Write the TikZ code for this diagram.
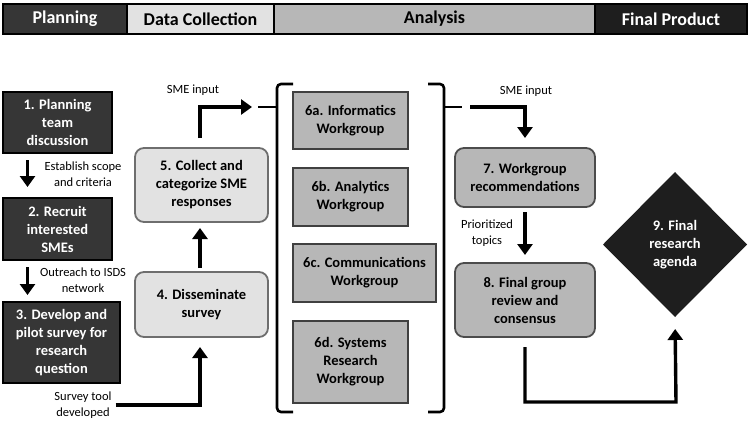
\documentclass[tikz,border=0pt]{standalone}
\usepackage{fontspec}
\setmainfont{Carlito}
\usepackage{tikz}
\usetikzlibrary{positioning,arrows.meta,shapes.geometric}

\definecolor{plangray}{HTML}{363636}
\definecolor{collgray}{HTML}{E2E2E2}
\definecolor{anagray}{HTML}{B7B7B7}
\definecolor{prodgray}{HTML}{1E1E1E}
\definecolor{rimgray}{HTML}{6E6E6E}

\tikzset{
  hdr/.style={draw=black, line width=1.5pt, outer sep=0pt, minimum height=30pt,
    font=\fontsize{18}{20}\selectfont\bfseries},
  planbox/.style={draw=black, fill=plangray, text=white, line width=1.2pt, align=center,
    font=\fontsize{14.5}{18}\selectfont\bfseries},
  collbox/.style={draw=rimgray, fill=collgray, line width=1.8pt, rounded corners=9pt,
    align=center, minimum width=133pt, font=\fontsize{14.5}{18}\selectfont\bfseries},
  wgbox/.style={draw=black!75, fill=anagray, line width=1.4pt, align=center,
    font=\fontsize{14.5}{18}\selectfont\bfseries},
  recbox/.style={draw=black!70, fill=anagray, line width=1.8pt, rounded corners=9pt,
    align=center, minimum width=140pt, font=\fontsize{14.5}{18}\selectfont\bfseries},
  note/.style={align=center, font=\fontsize{12.5}{16}\selectfont},
  flow/.style={line width=3.4pt, -{Triangle[width=15pt,length=11pt]}},
  bracket/.style={line width=2.6pt, rounded corners=4pt}
}

\begin{document}
\begin{tikzpicture}[x=1pt, y=-1pt, every node/.style={outer sep=0pt, inner sep=2pt}]
        \useasboundingbox (0,0) rectangle (750,423);

        % Phase header
        \node[hdr, fill=plangray, text=white, minimum width=124pt, anchor=west] (hplan) at (3,19) {Planning};
        \node[hdr, fill=collgray, minimum width=147pt, right=0pt of hplan] (hcoll) {Data Collection};
        \node[hdr, fill=anagray, minimum width=321pt, right=0pt of hcoll] (hana) {Analysis};
        \node[hdr, fill=prodgray, text=white, minimum width=152pt, right=0pt of hana] (hprod) {Final Product};
        \draw[line width=2.6pt] (hplan.north west) rectangle (hprod.south east);

        % Planning steps
        \node[planbox, minimum width=109pt, minimum height=61pt] (plan) at (57.5,122.5) {1. Planning\\team\\discussion};
        \node[planbox, minimum width=109pt, minimum height=62pt, below=45pt of plan] (recruit) {2. Recruit\\interested\\SMEs};
        \node[planbox, minimum width=117pt, minimum height=81pt, below=42pt of recruit.south west, anchor=north west] (develop)
        {3. Develop and\\pilot survey for\\research\\question};

        \node[note] (scope) at (83,174) {Establish scope\\and criteria};
        \node[note] (outreach) at (83,280) {Outreach to ISDS\\network};
        \node[note] (tool) at (83,405) {Survey tool\\developed};

        % Data collection steps
        \node[collbox, minimum height=65pt] (dissem) at (201.5,304.5) {4. Disseminate\\survey};
        \node[collbox, minimum height=74pt, above=50pt of dissem] (collect) {5. Collect and\\categorize SME\\responses};
        \node[note] (smeleft) at (193,90) {SME input};

        % Workgroups
        \node[wgbox, minimum width=115pt, minimum height=57pt] (informatics) at (350.5,120.5) {6a. Informatics\\Workgroup};
        \node[wgbox, minimum width=115pt, minimum height=58pt, below=19pt of informatics] (analytics) {6b. Analytics\\Workgroup};
        \node[wgbox, minimum width=143pt, minimum height=58pt, below=18pt of analytics.south west, anchor=north west] (comms)
        {6c. Communications\\Workgroup};
        \node[wgbox, minimum width=115pt, minimum height=82pt, below=19pt of comms.south west, anchor=north west] (systems)
        {6d. Systems\\Research\\Workgroup};

        % Brackets round the workgroups
        \coordinate (lbtip) at (258,107);
        \coordinate (rbtip) at (462,107);
        \draw[bracket] (293,84) -| (277,412) -- (293,412);
        \draw[bracket] (428,84) -| (444,412) -- (428,412);
        \draw[line width=2.6pt] (277,107) -- (lbtip);
        \draw[line width=2.6pt] (444,107) -- (rbtip);

        % Analysis and final product
        \node[recbox, minimum height=59pt] (recs) at (525,177.5) {7. Workgroup\\recommendations};
        \node[recbox, minimum height=74pt, below=56pt of recs] (review) {8. Final group\\review and\\consensus};
        \node[note] (smeright) at (526,91) {SME input};
        \node[note] (topics) at (487,233) {Prioritized\\topics};
        \node[diamond, fill=prodgray, text=white, align=center, minimum width=144pt, minimum height=145pt, inner sep=0pt,
          font=\fontsize{14.5}{18}\selectfont\bfseries] (agenda) at (675,244.5) {9. Final\\research\\agenda};
        \coordinate (bend) at (676,402);

        % Flow arrows
        \draw[flow, shorten <=7pt, shorten >=11pt] ([xshift=-30pt]plan.south) -- ([xshift=-30pt]recruit.north);
        \draw[flow, shorten <=7pt, shorten >=7pt] ([xshift=-30pt]recruit.south) -- ([xshift=-30pt]recruit.south |- develop.north);
        \draw[flow, shorten <=2pt, shorten >=10pt] (tool.east) -| ([xshift=-1.5pt]dissem.south);
        \draw[flow, shorten <=4pt, shorten >=6pt] ([xshift=-1.5pt]dissem.north) -- ([xshift=-1.5pt]collect.south);
        \draw[flow, shorten <=10pt, shorten >=6pt] ([xshift=-1.5pt]collect.north) |- (lbtip);
        \draw[flow, shorten <=8pt, shorten >=10pt] (rbtip) -| (recs.north);
        \draw[flow, shorten <=5pt, shorten >=8pt] (recs.south) -- (review.north);
        \draw[flow, shorten <=10pt, shorten >=12pt] (review.south) |- (bend) -- (agenda.south);
      \end{tikzpicture}
\end{document}
